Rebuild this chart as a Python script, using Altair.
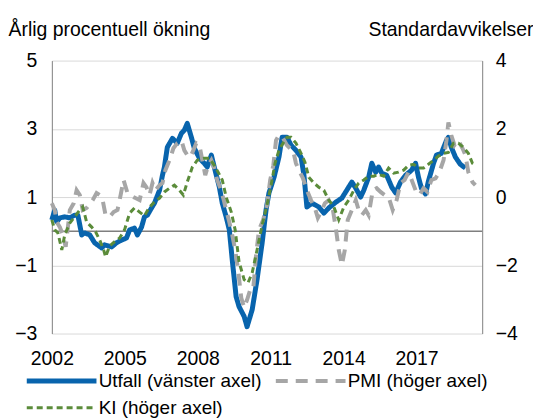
import altair as alt
import pandas as pd

# ---- data ----
utfall_year = [2002.00, 2002.12, 2002.20, 2002.33, 2002.53, 2002.74, 2002.94, 2003.07, 2003.23, 2003.35,
               2003.56, 2003.76, 2004.05, 2004.17, 2004.46, 2004.66, 2004.87, 2005.07, 2005.20, 2005.40,
               2005.52, 2005.69, 2005.81, 2005.93, 2006.10, 2006.22, 2006.43, 2006.55, 2006.63, 2006.75,
               2006.96, 2007.16, 2007.33, 2007.45, 2007.57, 2007.74, 2007.86, 2008.07, 2008.27, 2008.39,
               2008.56, 2008.68, 2008.89, 2009.01, 2009.17, 2009.30, 2009.42, 2009.58, 2009.70, 2009.91,
               2010.03, 2010.24, 2010.44, 2010.65, 2010.81, 2010.93, 2011.14, 2011.34, 2011.47, 2011.67,
               2011.84, 2012.04, 2012.25, 2012.37, 2012.49, 2012.70, 2012.98, 2013.19, 2013.39, 2013.68,
               2013.93, 2014.13, 2014.34, 2014.50, 2014.70, 2014.83, 2015.03, 2015.16, 2015.32, 2015.44,
               2015.57, 2015.77, 2015.98, 2016.14, 2016.34, 2016.55, 2016.80, 2016.96, 2017.08, 2017.20,
               2017.37, 2017.49, 2017.70, 2017.82, 2018.02, 2018.23, 2018.31, 2018.43, 2018.60, 2018.80,
               2019.01]
utfall_value = [0.33, 0.62, 0.27, 0.39, 0.42, 0.39, 0.47, 0.47, -0.11, -0.05,
                -0.11, -0.34, -0.49, -0.40, -0.46, -0.34, -0.26, -0.20, 0.04, 0.09,
                -0.11, 0.12, 0.42, 0.47, 0.68, 0.82, 1.20, 1.64, 1.88, 2.46,
                2.72, 2.58, 2.87, 2.96, 3.16, 2.75, 2.43, 2.14, 1.99, 1.88,
                2.23, 1.88, 1.29, 0.82, 0.42, 0.04, -0.84, -1.92, -2.21, -2.50,
                -2.80, -2.30, -1.42, -0.34, 0.62, 1.12, 1.58, 2.17, 2.75, 2.75,
                2.52, 2.37, 2.17, 1.64, 0.71, 0.82, 0.71, 0.53, 0.68, 0.85,
                0.97, 1.20, 1.44, 1.26, 1.00, 1.20, 1.58, 1.99, 1.73, 1.88,
                1.70, 1.64, 1.29, 1.12, 1.44, 1.64, 1.79, 1.99, 1.58, 1.26,
                1.09, 1.47, 1.99, 2.23, 2.28, 2.66, 2.75, 2.46, 2.17, 1.96,
                1.85]

pmi_year = [2002.00, 2002.12, 2002.20, 2002.33, 2002.45, 2002.57, 2002.74, 2002.90, 2003.02, 2003.15,
            2003.27, 2003.43, 2003.68, 2003.84, 2003.97, 2004.09, 2004.21, 2004.38, 2004.54, 2004.70,
            2004.83, 2004.95, 2005.11, 2005.28, 2005.44, 2005.61, 2005.77, 2005.89, 2006.02, 2006.14,
            2006.26, 2006.43, 2006.55, 2006.67, 2006.84, 2007.00, 2007.16, 2007.33, 2007.45, 2007.57,
            2007.70, 2007.82, 2007.94, 2008.07, 2008.19, 2008.31, 2008.43, 2008.56, 2008.68, 2008.80,
            2008.93, 2009.05, 2009.17, 2009.30, 2009.42, 2009.54, 2009.66, 2009.79, 2009.91, 2010.03,
            2010.16, 2010.28, 2010.40, 2010.52, 2010.69, 2010.85, 2010.98, 2011.11, 2011.22, 2011.34,
            2011.51, 2011.67, 2011.80, 2011.92, 2012.04, 2012.16, 2012.33, 2012.49, 2012.66, 2012.82,
            2012.94, 2013.07, 2013.23, 2013.39, 2013.56, 2013.68, 2013.80, 2013.93, 2014.05, 2014.17,
            2014.34, 2014.50, 2014.62, 2014.75, 2014.91, 2015.03, 2015.20, 2015.36, 2015.52, 2015.69,
            2015.85, 2016.02, 2016.18, 2016.34, 2016.51, 2016.67, 2016.80, 2016.96, 2017.12, 2017.29,
            2017.45, 2017.61, 2017.78, 2017.94, 2018.11, 2018.23, 2018.31, 2018.43, 2018.56, 2018.72,
            2018.89, 2019.01, 2019.13, 2019.30, 2019.42]
pmi_value = [-0.18, -0.38, -0.73, -0.88, -1.11, -1.46, -0.38, -0.18, 0.20, 0.06,
             -0.38, -0.32, -0.09, 0.12, 0.06, -0.09, -0.53, -0.58, -0.44, -0.38,
             0.06, 0.50, 0.12, 0.03, -0.03, -0.09, 0.41, 0.29, 0.06, 0.41,
             0.20, 0.35, 0.41, 0.79, 1.08, 1.43, 1.58, 1.66, 1.37, 1.23,
             1.17, 1.37, 1.58, 1.52, 1.08, 0.64, 0.93, 1.08, 0.85, 0.50,
             0.26, -0.03, -0.38, -0.73, -1.11, -1.55, -2.13, -2.95, -3.24, -3.01,
             -2.72, -2.72, -1.70, -0.96, -0.67, -0.23, 0.50, 0.93, 1.66, 1.81,
             1.72, 1.52, 1.43, 1.37, 0.99, 0.79, 0.55, 0.20, -0.09, -0.32,
             -0.61, -0.44, -0.18, -0.09, -0.38, -0.91, -1.55, -1.99, -1.55, -0.67,
             -0.38, -0.09, -0.38, -0.53, -0.38, -0.53, 0.20, 0.26, 0.15, 0.06,
             0.00, -0.38, -0.09, 0.41, 0.50, 0.73, 0.50, 0.20, 0.06, 0.26,
             0.15, 0.50, 0.55, 0.73, 1.08, 1.66, 2.19, 1.81, 1.52, 1.66,
             1.43, 1.23, 0.73, 0.44, 0.35]

ki_year = [2002.00, 2002.12, 2002.25, 2002.41, 2002.53, 2002.74, 2002.94, 2003.15, 2003.27, 2003.43,
           2003.64, 2003.80, 2003.97, 2004.13, 2004.21, 2004.38, 2004.58, 2004.79, 2004.99, 2005.20,
           2005.40, 2005.61, 2005.81, 2006.02, 2006.22, 2006.43, 2006.63, 2006.84, 2007.04, 2007.25,
           2007.41, 2007.57, 2007.78, 2007.98, 2008.27, 2008.48, 2008.68, 2008.84, 2009.01, 2009.17,
           2009.38, 2009.54, 2009.70, 2009.91, 2010.07, 2010.24, 2010.44, 2010.65, 2010.85, 2011.02,
           2011.18, 2011.34, 2011.51, 2011.67, 2011.84, 2012.04, 2012.25, 2012.41, 2012.57, 2012.78,
           2012.98, 2013.19, 2013.39, 2013.60, 2013.80, 2014.01, 2014.21, 2014.42, 2014.62, 2014.83,
           2015.03, 2015.24, 2015.44, 2015.65, 2015.85, 2016.06, 2016.26, 2016.47, 2016.67, 2016.88,
           2017.08, 2017.29, 2017.49, 2017.70, 2017.90, 2018.11, 2018.31, 2018.52, 2018.72, 2018.93,
           2019.13, 2019.30, 2019.42]
ki_value = [-0.67, -0.96, -1.05, -1.55, -1.11, -0.76, -0.58, -0.38, -0.29, -0.73,
            -0.88, -1.02, -1.26, -1.55, -1.75, -1.43, -1.31, -1.20, -0.96, -0.47,
            -0.32, -0.44, -0.55, -0.29, -0.15, -0.03, 0.15, 0.26, 0.35, 0.20,
            0.06, 0.44, 0.88, 1.08, 1.14, 1.14, 0.93, 0.73, 0.50, 0.00,
            -0.44, -0.96, -1.90, -2.42, -2.51, -2.22, -1.55, -0.82, -0.23, 0.35,
            0.99, 1.37, 1.58, 1.75, 1.75, 1.58, 1.28, 1.02, 0.58, 0.41,
            0.29, 0.20, -0.09, -0.29, -0.67, -0.29, -0.09, 0.20, 0.41, 0.50,
            0.61, 0.61, 0.67, 0.61, 0.85, 0.70, 0.73, 0.79, 0.93, 0.96,
            0.85, 0.85, 0.96, 1.08, 1.20, 1.28, 1.31, 1.58, 1.58, 1.46,
            1.28, 0.99, 0.93]

series_names = ["Utfall (vänster axel)", "PMI (höger axel)", "KI (höger axel)"]
left_ticks = [-3, -1, 1, 3, 5]
right_ticks = [-4, -2, 0, 2, 4]
x_ticks = [2002, 2005, 2008, 2011, 2014, 2017]
zero_level = [0]

# ---- styling ----
FONT = "Liberation Sans"
FS = 19.5
colors = ["#0864AD", "#A6A6A6", "#5B8C3A"]
dashes = [[1, 0], [12, 8], [6, 4]]
widths = [5, 3, 3]

df_left = pd.DataFrame({"year": utfall_year, "value": utfall_value, "series": series_names[0]})
df_right = pd.concat([
    pd.DataFrame({"year": pmi_year, "value": pmi_value, "series": series_names[1]}),
    pd.DataFrame({"year": ki_year, "value": ki_value, "series": series_names[2]}),
])
df_zero = pd.DataFrame({"value": zero_level})

# long, thin stroke symbol drawn with a small symbol size so rows stay compact
legend = alt.Legend(
    title=None, orient="none", legendX=-23, legendY=312, direction="horizontal",
    columns=2, symbolType="M-2,0L10,0", symbolSize=136, labelFontSize=19, labelFont=FONT,
    labelColor="black", labelLimit=400, columnPadding=5, rowPadding=7, labelOffset=51,
    padding=0,
)

x_enc = alt.X(
    "year:Q",
    scale=alt.Scale(domain=[2002, 2019.7], nice=False, zero=False),
    axis=alt.Axis(values=x_ticks, format="d", title=None, ticks=False, domain=False,
                  grid=False, labelFontSize=FS, labelFont=FONT, labelPadding=16,
                  labelFlush=False, labelColor="black"),
)

color_enc = alt.Color("series:N", scale=alt.Scale(domain=series_names, range=colors), legend=legend)
dash_enc = alt.StrokeDash("series:N", scale=alt.Scale(domain=series_names, range=dashes), legend=legend)
width_enc = alt.StrokeWidth("series:N", scale=alt.Scale(domain=series_names, range=widths), legend=legend)

left_axis = alt.Axis(
    values=left_ticks, title="Årlig procentuell ökning", titleAngle=0, titleAlign="left",
    titleBaseline="alphabetic", titleX=-44, titleY=-25, titleFontSize=FS,
    titleFontWeight="normal", titleFont=FONT, titleColor="black",
    labelFontSize=FS, labelFont=FONT, labelPadding=15, labelColor="black",
    ticks=False, domainColor="#7f7f7f", grid=True, gridColor="#d9d9d9",
)
left_y = alt.Y("value:Q", scale=alt.Scale(domain=[-3, 5], nice=False, zero=False), axis=left_axis)

zero_rule = alt.Chart(df_zero).mark_rule(color="#7f7f7f", strokeWidth=1.5).encode(y=left_y)
blue_line = alt.Chart(df_left).mark_line(strokeJoin="round").encode(
    x=x_enc, y=left_y, color=color_enc, strokeDash=dash_enc, strokeWidth=width_enc
)
left_layer = alt.layer(zero_rule, blue_line)

right_axis = alt.Axis(
    orient="right", values=right_ticks, title="Standardavvikelser", titleAngle=0,
    titleAlign="right", titleBaseline="alphabetic", titleX=51, titleY=-25,
    titleFontSize=FS, titleFontWeight="normal", titleFont=FONT, titleColor="black",
    labelFontSize=FS, labelFont=FONT, labelPadding=13, labelColor="black",
    ticks=False, domainColor="#7f7f7f", grid=False,
)
right_lines = alt.Chart(df_right).mark_line().encode(
    x=x_enc,
    y=alt.Y("value:Q", scale=alt.Scale(domain=[-4, 4], nice=False, zero=False), axis=right_axis),
    color=color_enc, strokeDash=dash_enc, strokeWidth=width_enc, detail="series:N",
)

chart = (
    alt.layer(left_layer, right_lines)
    .resolve_scale(y="independent")
    .properties(width=432, height=274, padding={"left": 0, "top": 11, "right": 0, "bottom": 0})
    .configure_view(stroke=None)
)

chart.save("out.html", embed_options={"renderer": "svg", "actions": False})
